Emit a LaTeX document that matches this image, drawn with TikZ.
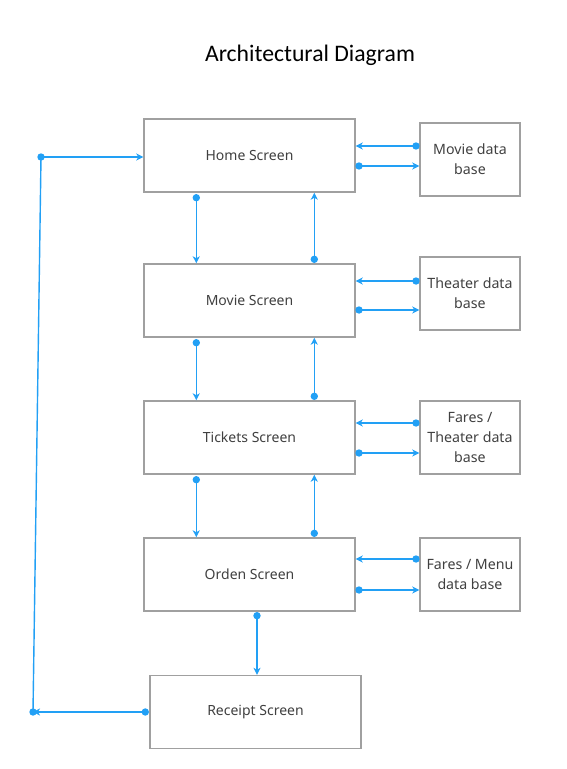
\documentclass[tikz,border=0pt]{standalone}
\usepackage{fontspec}
\setmainfont{Noto Sans}
\newfontfamily\titlefont{Carlito}
\usetikzlibrary{arrows.meta}
\definecolor{conncol}{HTML}{22A0F5}
\definecolor{boxgray}{HTML}{A0A0A0}
\definecolor{txtgray}{HTML}{404040}
\begin{document}
\begin{tikzpicture}[x=1pt,y=-1pt,
  scrbox/.style={draw=boxgray,line width=1.4pt,minimum width=211pt,minimum height=73pt,inner sep=0pt,text=txtgray,font=\fontsize{14}{17}\selectfont},
  dbbox/.style={draw=boxgray,line width=1.4pt,minimum width=100pt,minimum height=73pt,inner sep=0pt,text=txtgray,align=center,font=\fontsize{14.2}{20}\selectfont},
  conn/.style={draw=conncol,line width=1.4pt,-{Stealth[length=7pt,width=7pt,inset=2pt]}},
  plain/.style={draw=conncol,line width=1.4pt},
  dot/.style={fill=conncol}
]
\useasboundingbox (0,0) rectangle (566,769);
\node[anchor=base,font=\titlefont\fontsize{23.7}{28}\selectfont] (title) at (310,61) {Architectural Diagram};

\node[scrbox] (home) at (249.5,155.5) {Home Screen};
\node[dbbox] (mdb) at (470,159.5) {Movie data\\base};
\node[scrbox] (movie) at (249.5,300.5) {Movie Screen};
\node[dbbox] (tdb) at (470,293.5) {Theater data\\base};
\node[scrbox] (tickets) at (249.5,437.5) {Tickets Screen};
\node[dbbox] (fdb) at (470,437.5) {Fares /\\Theater data\\base};
\node[scrbox] (orden) at (249.5,574.5) {Orden Screen};
\node[dbbox] (fmdb) at (470,574.5) {Fares / Menu\\data base};
\node[scrbox] (receipt) at (255.5,712) {Receipt Screen};

% vertical connectors between screens
\foreach \a/\b in {home/movie,movie/tickets,tickets/orden}{
  \coordinate (d\a) at ([shift={(53,5)}]\a.south west);
  \draw[conn] (d\a) -- (d\a |- \b.north);
  \fill[dot] (d\a) circle (3.7);
  \coordinate (u\a) at ([shift={(171,-4)}]\b.north west);
  \draw[conn] (u\a) -- (u\a |- \a.south);
  \fill[dot] (u\a) circle (3.7);
}
\coordinate (dorden) at ([shift={(7.5,4)}]orden.south);
\draw[conn] (dorden) -- (dorden |- receipt.north);
\fill[dot] (dorden) circle (3.7);

% database connectors
\coordinate (h1) at (416,146); \coordinate (h2) at (359,166);
\coordinate (m1) at (416,281); \coordinate (m2) at (359,310);
\coordinate (t1) at (416,423); \coordinate (t2) at (359,453);
\coordinate (o1) at (416,559); \coordinate (o2) at (359,590);
\draw[conn] (h1) -- (h1 -| home.east); \fill[dot] (h1) circle (3.7);
\draw[conn] (h2) -- (h2 -| mdb.west); \fill[dot] (h2) circle (3.7);
\draw[conn] (m1) -- (m1 -| movie.east); \fill[dot] (m1) circle (3.7);
\draw[conn] (m2) -- (m2 -| tdb.west); \fill[dot] (m2) circle (3.7);
\draw[conn] (t1) -- (t1 -| tickets.east); \fill[dot] (t1) circle (3.7);
\draw[conn] (t2) -- (t2 -| fdb.west); \fill[dot] (t2) circle (3.7);
\draw[conn] (o1) -- (o1 -| orden.east); \fill[dot] (o1) circle (3.7);
\draw[conn] (o2) -- (o2 -| fmdb.west); \fill[dot] (o2) circle (3.7);

% loop back
\coordinate (rs) at ([xshift=-4]receipt.west);
\coordinate (lb) at (33,712);
\coordinate (lt) at (41,157);
\draw[conn] (rs) -- (lb);
\fill[dot] (rs) circle (3.7);
\draw[plain] (lb) -- (lt);
\fill[dot] (lb) circle (3.7);
\draw[conn] (lt) -- (lt -| home.west);
\fill[dot] (lt) circle (3.7);
\end{tikzpicture}
\end{document}
